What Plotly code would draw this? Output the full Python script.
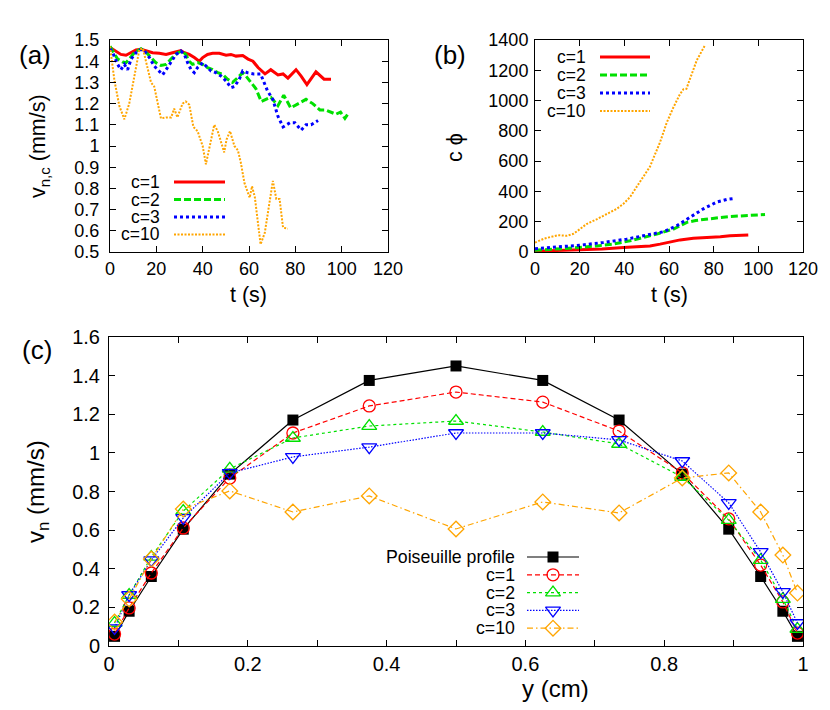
import plotly.graph_objects as go

# ---- panel (a): v_n,c versus time ----
t1a = [0, 2.6, 4.7, 6.9, 9.1, 11.2, 13.4, 15.5, 18.4, 21.3, 24.2, 27, 29.1, 30.6, 32.1, 34.2,
       36.4, 38.5, 40, 42.1, 44.3, 47.2, 50.1, 52.2, 54.4, 57.3, 59.6, 61.7, 63.9, 66.9, 69.4,
       72.5, 74.7, 76.8, 80.3, 82.5, 85, 88.9, 92.4, 95.4]
v1a = [1.465, 1.448, 1.432, 1.428, 1.44, 1.453, 1.456, 1.448, 1.44, 1.437, 1.432, 1.44, 1.448,
       1.45, 1.44, 1.432, 1.417, 1.40, 1.417, 1.432, 1.437, 1.437, 1.428, 1.432, 1.424, 1.427,
       1.41, 1.40, 1.37, 1.34, 1.36, 1.335, 1.34, 1.32, 1.36, 1.33, 1.29, 1.35, 1.315, 1.315]

t2a = [0, 1.2, 3.3, 5.5, 6.9, 8.3, 10.5, 13.4, 15.5, 17.7, 19.8, 22, 24.2, 26.3, 29.1, 31.3,
       32.7, 34.2, 35.6, 37.8, 40, 42.1, 44.3, 46.5, 48.6, 50.8, 52.9, 55.1, 57.3, 58.7, 60.9,
       63, 65.3, 67.2, 69.4, 72.5, 75, 78, 81, 84.6, 87.5, 90.6, 93, 95.4, 97.5, 99.5, 101.4, 103.2]
v2a = [1.47, 1.448, 1.41, 1.396, 1.393, 1.41, 1.44, 1.459, 1.443, 1.417, 1.393, 1.38, 1.385,
       1.41, 1.44, 1.448, 1.432, 1.40, 1.385, 1.393, 1.385, 1.37, 1.36, 1.346, 1.338, 1.315,
       1.30, 1.322, 1.346, 1.33, 1.30, 1.27, 1.21, 1.22, 1.23, 1.19, 1.24, 1.18, 1.20, 1.22,
       1.20, 1.17, 1.17, 1.16, 1.15, 1.16, 1.13, 1.16]

t3a = [0, 1.2, 3.3, 4.7, 6.2, 7.6, 9.1, 11.2, 13.4, 14.8, 17, 19.1, 20.6, 22.7, 24.2, 26.3,
       28.5, 30.6, 32.1, 33.5, 35, 36.4, 37.8, 40, 41.4, 43.6, 45.7, 47.9, 50.1, 52.2, 53.7,
       55.8, 57.3, 59.6, 62, 65, 68, 70.3, 72.5, 74.7, 77.7, 79.8, 82.5, 84.6, 86.8, 89.8]
v3a = [1.46, 1.44, 1.385, 1.36, 1.385, 1.36, 1.41, 1.44, 1.456, 1.45, 1.417, 1.377, 1.36,
       1.336, 1.36, 1.393, 1.432, 1.448, 1.432, 1.393, 1.36, 1.346, 1.37, 1.393, 1.377, 1.354,
       1.346, 1.33, 1.307, 1.275, 1.28, 1.315, 1.354, 1.345, 1.34, 1.34, 1.26, 1.22, 1.14,
       1.09, 1.11, 1.11, 1.075, 1.10, 1.10, 1.12]

t10a = [0, 1.9, 4, 6.2, 8.3, 10.5, 12.7, 14.2, 16.3, 17.7, 19.1, 20.5, 22, 24.2, 26.4, 27.7,
        29.1, 31.3, 32.7, 34.2, 36, 37.8, 40, 41.4, 43.2, 45, 46.5, 47.9, 49.3, 50.3, 51.8,
        53.7, 55.2, 56.5, 58, 60.3, 61.3, 62.5, 63.6, 65, 66.8, 68.4, 70.3, 71.8, 73.2, 74.7, 76.8]
v10a = [1.47, 1.31, 1.19, 1.126, 1.20, 1.33, 1.456, 1.46, 1.36, 1.30, 1.28, 1.20, 1.13, 1.135,
        1.135, 1.176, 1.135, 1.20, 1.21, 1.195, 1.09, 1.07, 1.00, 0.914, 1.00, 1.10, 1.07,
        1.016, 0.97, 1.03, 1.07, 1.00, 0.98, 0.92, 0.827, 0.756, 0.81, 0.76, 0.66, 0.536,
        0.59, 0.70, 0.835, 0.75, 0.75, 0.615, 0.61]

# ---- panel (b): c*phi versus time ----
t1b = [0, 10, 20.2, 30, 39.6, 45, 51.5, 56, 60.5, 65, 70.9, 74, 78.4, 83, 87.3, 91, 95.5]
v1b = [5, 9, 13, 20, 29, 33, 40, 52, 67, 80, 90, 92, 96, 100, 107, 111, 113]

t2b = [0, 12.7, 27.6, 35, 42.5, 48, 54.5, 62, 68, 72, 76.9, 82, 87.3, 94.8, 103]
v2b = [12, 22, 40, 52, 74, 95, 118, 152, 196, 208, 218, 226, 234, 242, 248]

t3b = [0, 9.7, 20.2, 30.6, 41, 48.5, 57.5, 63.5, 69.5, 75.4, 81.4, 85.8, 89.6]
v3b = [22, 33, 45, 63, 85, 107, 134, 174, 230, 285, 330, 347, 354]

t10b = [0, 4, 8, 10.4, 14.2, 17.2, 20.2, 23.1, 27.6, 32.1, 36.6, 39.6, 42.5, 45.5, 48.5, 51.5,
        53, 56, 59, 61.9, 64.9, 66.5, 67.8, 69.5, 72.4, 76.1]
v10b = [62, 88, 103, 111, 107, 120, 152, 185, 216, 250, 285, 318, 362, 430, 497, 564, 619,
        725, 855, 953, 1042, 1075, 1078, 1150, 1265, 1365]

# ---- panel (c): velocity profiles ----
yc = [0.008, 0.029, 0.061, 0.107, 0.174, 0.265, 0.375, 0.5, 0.625, 0.735, 0.826, 0.893,
      0.939, 0.971, 0.992]
pois = [0.05, 0.18, 0.36, 0.605, 0.89, 1.17, 1.375, 1.45, 1.375, 1.17, 0.89, 0.605, 0.36, 0.18, 0.05]
vc1 = [0.062, 0.197, 0.378, 0.611, 0.870, 1.103, 1.243, 1.315, 1.263, 1.113, 0.896, 0.658,
       0.419, 0.228, 0.067]
vc2 = [0.119, 0.264, 0.461, 0.699, 0.917, 1.077, 1.139, 1.165, 1.108, 1.046, 0.875, 0.652,
       0.445, 0.243, 0.088]
vc3 = [0.093, 0.264, 0.445, 0.663, 0.896, 0.979, 1.030, 1.103, 1.103, 1.067, 0.958, 0.741,
       0.487, 0.280, 0.119]
vc10 = [0.124, 0.243, 0.450, 0.709, 0.803, 0.694, 0.777, 0.606, 0.746, 0.689, 0.870, 0.896,
        0.694, 0.471, 0.274]

labels = ['c=1', 'c=2', 'c=3', 'c=10']

# the page body has an 8px margin, so the figure starts at (8, 8) of the window
PAGE_W, PAGE_H, OFF = 830, 710, 8
W, H = PAGE_W - OFF, PAGE_H - OFF
FONT = 'Liberation Sans, Arial, sans-serif'


def fx(p):
    return (p - OFF) / W


def fy(p):
    return 1 - (p - OFF) / H


# styles for (a)/(b)
ts_style = [dict(color='#ff0000', width=3, dash='solid'),
            dict(color='#00e000', width=3, dash='7px,3px'),
            dict(color='#0000ff', width=3, dash='3px,3px'),
            dict(color='#ffa500', width=2, dash='2px,1.5px')]

# styles for (c)
prof_names = ['Poiseuille profile'] + labels
prof_lines = [dict(color='black', width=1.2, dash='solid'),
              dict(color='#ff0000', width=1.2, dash='5px,3px'),
              dict(color='#00e000', width=1.2, dash='3px,3px'),
              dict(color='#0000ff', width=1.2, dash='1.5px,1.5px'),
              dict(color='#ffa500', width=1.2, dash='6px,3px,1.5px,3px')]
prof_marks = [dict(symbol='square', size=11, color='black'),
              dict(symbol='circle-open', size=12, color='#ff0000', line=dict(width=1.3)),
              dict(symbol='triangle-up-open', size=13, color='#00e000', line=dict(width=1.3)),
              dict(symbol='triangle-down-open', size=13, color='#0000ff', line=dict(width=1.3)),
              dict(symbol='diamond-open', size=12, color='#ffa500', line=dict(width=1.3))]

fig = go.Figure()

for t, v, st in zip([t1a, t2a, t3a, t10a], [v1a, v2a, v3a, v10a], ts_style):
    fig.add_trace(go.Scatter(x=t, y=v, mode='lines', line=st, xaxis='x', yaxis='y'))

for t, v, st in zip([t1b, t2b, t3b, t10b], [v1b, v2b, v3b, v10b], ts_style):
    fig.add_trace(go.Scatter(x=t, y=v, mode='lines', line=st, xaxis='x2', yaxis='y2'))

for v, ln, mk in zip([pois, vc1, vc2, vc3, vc10], prof_lines, prof_marks):
    fig.add_trace(go.Scatter(x=yc, y=v, mode='lines+markers', line=ln, marker=mk,
                             xaxis='x3', yaxis='y3'))


def text(s, xp, yp, size, angle=0, xanchor='center'):
    # place a text at a pixel position of the window
    fig.add_annotation(text=s, x=fx(xp), y=fy(yp), xref='paper', yref='paper',
                       xanchor=xanchor, yanchor='middle', showarrow=False, textangle=angle,
                       font=dict(family=FONT, size=size, color='black'))


# hand-made gnuplot style keys (text left, sample right), on a pixel overlay axis
def key(rows_y, text_right, x0, x1, names, lines, marks=None, size=17.5):
    for i, (name, ln) in enumerate(zip(names, lines)):
        yy = rows_y[i]
        text(name, text_right, yy, size, xanchor='right')
        fig.add_trace(go.Scatter(x=[x0, x1], y=[yy, yy], mode='lines', line=ln,
                                 xaxis='x4', yaxis='y4'))
        if marks:
            fig.add_trace(go.Scatter(x=[(x0 + x1) / 2], y=[yy], mode='markers', marker=marks[i],
                                     xaxis='x4', yaxis='y4'))


key([182 + 17.5 * i for i in range(4)], 162, 174, 225, labels, ts_style)
key([57 + 18 * i for i in range(4)], 588, 600, 650, labels, ts_style)
key([557 + 17.8 * i for i in range(5)], 517, 527, 579, prof_names, prof_lines, prof_marks, 17.7)

ax = dict(showline=True, linecolor='black', linewidth=1, mirror='ticks', ticks='inside',
          ticklen=6, tickcolor='black', tickwidth=1, showgrid=False, zeroline=False,
          fixedrange=True, automargin=False)
tf_small = dict(family=FONT, size=18, color='black')
tf_big = dict(family=FONT, size=20, color='black')

fig.update_layout(
    width=W, height=H, showlegend=False,
    margin=dict(l=0, r=0, t=0, b=0),
    paper_bgcolor='white', plot_bgcolor='rgba(0,0,0,0)',
    font=dict(family=FONT, color='black'),
    xaxis=dict(ax, domain=[fx(110), fx(388)], range=[0, 120], dtick=20, tickfont=tf_small,
               anchor='y'),
    yaxis=dict(ax, domain=[fy(252), fy(40)], range=[0.5, 1.5], dtick=0.1,
               tickfont=tf_small, ticklabelstandoff=6, anchor='x'),
    xaxis2=dict(ax, domain=[fx(535), fx(803)], range=[0, 120], dtick=20, tickfont=tf_small,
                anchor='y2'),
    yaxis2=dict(ax, domain=[fy(252), fy(40)], range=[0, 1400], dtick=200,
                tickfont=tf_small, ticklabelstandoff=2, anchor='x2'),
    xaxis3=dict(ax, domain=[fx(109), fx(803)], range=[0, 1], dtick=0.2, tickfont=tf_big,
                minor=dict(dtick=0.1, ticks='inside', ticklen=6, tickcolor='black'),
                anchor='y3'),
    yaxis3=dict(ax, domain=[fy(646), fy(337)], range=[0, 1.6], dtick=0.2,
                tickfont=tf_big, ticklabelstandoff=4, anchor='x3'),
    xaxis4=dict(domain=[0, 1], range=[OFF, PAGE_W], visible=False, fixedrange=True, anchor='y4'),
    yaxis4=dict(domain=[0, 1], range=[PAGE_H, OFF], visible=False, fixedrange=True, anchor='x4'),
)

# axis titles
text('t (s)', 249, 295, 21.5)
text('v<sub>n,c</sub> (mm/s)', 40, 146, 21.5, angle=-90)
text('t (s)', 669, 295, 21.5)
text('c ϕ', 455, 147, 21.5, angle=-90)
text('y (cm)', 555, 688, 24)
text('v<sub>n</sub> (mm/s)', 37, 492, 24, angle=-90)

# panel labels
for lab, xp, yp in [('(a)', 35, 55), ('(b)', 450, 55), ('(c)', 37, 350)]:
    text(lab, xp, yp, 26)

fig.write_html("out.html")
